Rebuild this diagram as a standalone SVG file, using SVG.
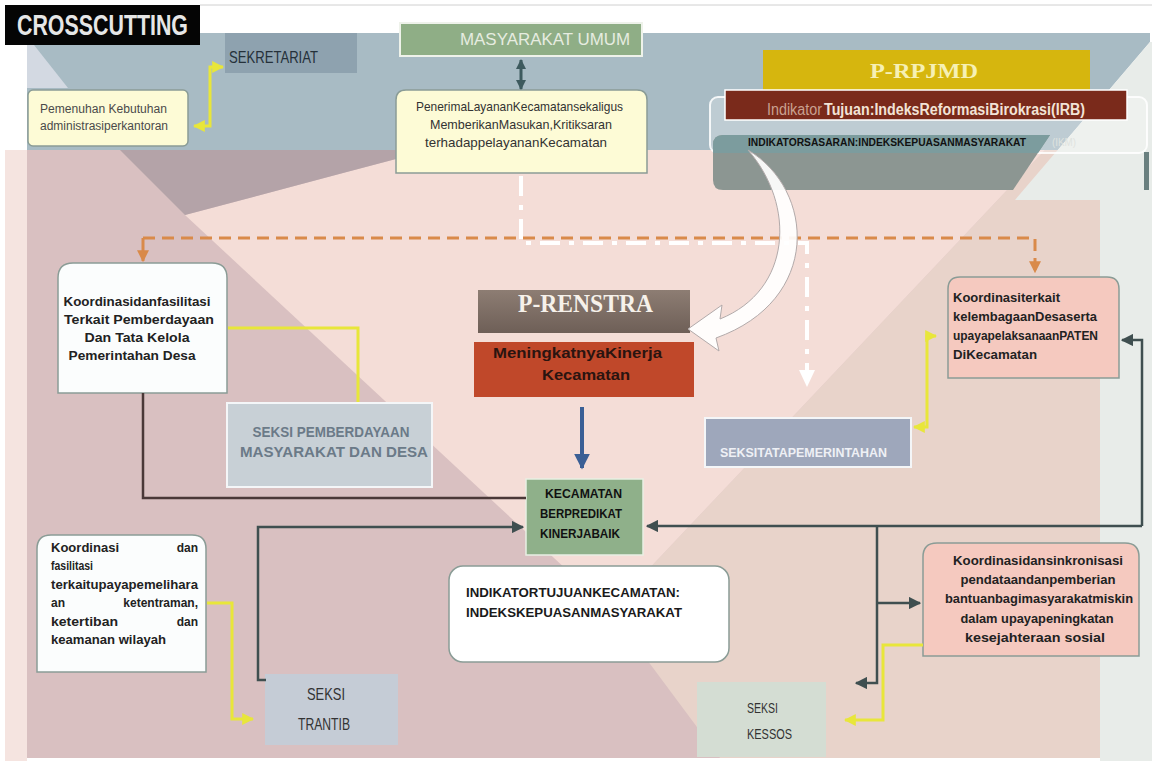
<svg xmlns="http://www.w3.org/2000/svg" width="1152" height="761" viewBox="0 0 1152 761">
<style>
text{font-family:"Liberation Sans",Arial,sans-serif;}
.serif{font-family:"Liberation Serif","Times New Roman",serif;font-weight:bold;}
.b{font-weight:bold;}
.dark{fill:#222;}
.yl{fill:none;stroke:#e8e63a;stroke-width:3;}
.dk{fill:none;stroke:#3f4f50;stroke-width:2.5;}
.or{fill:none;stroke:#d98a4a;stroke-width:3;}
.wh{fill:none;stroke:#ffffff;stroke-width:4;}
.card{stroke:#8a9c96;stroke-width:1.5;}
</style>
<defs>
<marker id="aDk" viewBox="0 0 10 10" refX="9" refY="5" markerWidth="5" markerHeight="5" orient="auto-start-reverse"><path d="M0,0 L10,5 L0,10 Z" fill="#3f4f50"/></marker>
<marker id="aYl" viewBox="0 0 10 10" refX="9" refY="5" markerWidth="4" markerHeight="4" orient="auto-start-reverse"><path d="M0,0 L10,5 L0,10 Z" fill="#e8e63a"/></marker>
<marker id="aOr" viewBox="0 0 10 10" refX="9" refY="5" markerWidth="4" markerHeight="4" orient="auto"><path d="M0,0 L10,5 L0,10 Z" fill="#d98a4a"/></marker>
<marker id="aBl" viewBox="0 0 10 10" refX="9" refY="5" markerWidth="4" markerHeight="4" orient="auto"><path d="M0,0 L10,5 L0,10 Z" fill="#3a5f95"/></marker>
<marker id="aTl" viewBox="0 0 10 10" refX="9" refY="5" markerWidth="3.5" markerHeight="3.5" orient="auto-start-reverse"><path d="M0,0 L10,5 L0,10 Z" fill="#3d5a5e"/></marker>
<linearGradient id="gRen" x1="0" y1="0" x2="0" y2="1"><stop offset="0" stop-color="#8d7d73"/><stop offset="1" stop-color="#6e5f57"/></linearGradient>
</defs>

<g id="background">
<rect x="0" y="0" width="1152" height="761" fill="#ffffff"/>
<line x1="200" y1="5" x2="1152" y2="5" stroke="#d0d0d0" stroke-width="1"/>
<rect x="5" y="150" width="22" height="611" fill="#f5e4e0"/>
<rect x="27" y="150" width="1073" height="608" fill="#d9c0c1"/>
<polygon points="1045,150 1100,150 1100,758 720,758 610,610" fill="#e8d3ca"/>
<polygon points="185,215 343,173 430,150 1045,150 610,610" fill="#f4ddd7"/>
<polygon points="120,150 430,150 343,173 185,215" fill="#b4a3a8"/>
<polygon points="27,33 1150,33 1150,42 1058,150 27,150" fill="#a8bbc4"/>
<polygon points="27,45 34,45 68,88 27,88" fill="#d3d9e2"/>
<polygon points="1150,42 1152,42 1152,761 1100,761 1100,200 1015,200" fill="#e8ece9"/>
<rect x="1144" y="152" width="5" height="38" fill="#6a8080"/>
</g>

<g id="crosscutting">
<rect x="5" y="5" width="195" height="40" fill="#050505"/>
<text x="17" y="35" font-size="29" class="b" fill="#e6e6e6" textLength="171" lengthAdjust="spacingAndGlyphs">CROSSCUTTING</text>
</g>

<g id="sekretariat">
<rect x="225" y="33" width="132" height="40" fill="#8ea2af"/>
<text x="229" y="63" font-size="17" fill="#25313a" textLength="89" lengthAdjust="spacingAndGlyphs">SEKRETARIAT</text>
</g>

<g id="pemenuhan">
<rect x="28" y="90" width="160" height="56" rx="5" fill="#fdfbd6" class="card"/>
<text x="40" y="113" font-size="12" fill="#4a4a4a" textLength="127" lengthAdjust="spacingAndGlyphs">Pemenuhan Kebutuhan</text>
<text x="40" y="130" font-size="12" fill="#4a4a4a" textLength="128" lengthAdjust="spacingAndGlyphs">administrasiperkantoran</text>
</g>

<g id="masyarakat-umum">
<rect x="400" y="23" width="242" height="33" fill="#8fae86" stroke="#eef2ea" stroke-width="2"/>
<text x="460" y="45" font-size="16" fill="#e6ece0" textLength="170" lengthAdjust="spacingAndGlyphs">MASYARAKAT UMUM</text>
</g>

<g id="penerima">
<path d="M396,173 V100 Q396,90 406,90 H637 Q647,90 647,100 V173 Z" fill="#fdfbd6" class="card"/>
<text x="416" y="111" font-size="13" fill="#333" textLength="207" lengthAdjust="spacingAndGlyphs">PenerimaLayananKecamatansekaligus</text>
<text x="430" y="129" font-size="13" fill="#333" textLength="182" lengthAdjust="spacingAndGlyphs">MemberikanMasukan,Kritiksaran</text>
<text x="425" y="147" font-size="13" fill="#333" textLength="182" lengthAdjust="spacingAndGlyphs">terhadappelayananKecamatan</text>
</g>

<g id="p-rpjmd">
<rect x="763" y="50" width="327" height="42" fill="#d6b60e"/>
<text x="870" y="78" font-size="22" class="serif" fill="#f6f0b4" textLength="108" lengthAdjust="spacingAndGlyphs">P-RPJMD</text>
</g>

<g id="indikator-frame">
<rect x="710" y="97" width="437" height="56" rx="8" fill="#ffffff" fill-opacity="0.25" stroke="#ffffff" stroke-opacity="0.85" stroke-width="2"/>
</g>

<g id="indikator-tujuan">
<rect x="725" y="90" width="402" height="30" fill="#7a2a1b" stroke="#ffffff" stroke-width="1.5"/>
<text x="767" y="115" font-size="16" fill="#c9a090" textLength="55" lengthAdjust="spacingAndGlyphs">Indikator</text>
<text x="824" y="115" font-size="16" class="b" fill="#f2e3d6" textLength="261" lengthAdjust="spacingAndGlyphs">Tujuan:IndeksReformasiBirokrasi(IRB)</text>
</g>

<g id="indikator-sasaran">
<path d="M723,135 H1050 L1013,190 H723 Q713,190 713,180 V145 Q713,135 723,135 Z" fill="#8c9692"/>
<path d="M723,135 H1050 L1038,153 H713 V145 Q713,135 723,135 Z" fill="#7c9c9e"/>
<text x="748" y="146" font-size="11" class="b" fill="#111" textLength="278" lengthAdjust="spacingAndGlyphs">INDIKATORSASARAN:INDEKSKEPUASANMASYARAKAT</text>
<text x="1052" y="146" font-size="10" fill="#dfe3df" textLength="24" lengthAdjust="spacingAndGlyphs">(IKM)</text>
</g>

<g id="koordinasi-desa">
<path d="M58,393 V278 Q58,263 73,263 H212 Q227,263 227,278 V393 Z" fill="#fbfdfd" class="card"/>
<text x="137" y="306" font-size="13" class="b dark" text-anchor="middle" textLength="147" lengthAdjust="spacingAndGlyphs">Koordinasidanfasilitasi</text>
<text x="139" y="324" font-size="13" class="b dark" text-anchor="middle" textLength="150" lengthAdjust="spacingAndGlyphs">Terkait Pemberdayaan</text>
<text x="137" y="342" font-size="13" class="b dark" text-anchor="middle" textLength="105" lengthAdjust="spacingAndGlyphs">Dan Tata Kelola</text>
<text x="132" y="360" font-size="13" class="b dark" text-anchor="middle" textLength="127" lengthAdjust="spacingAndGlyphs">Pemerintahan Desa</text>
</g>

<g id="seksi-pemberdayaan">
<rect x="227" y="403" width="205" height="84" fill="#c8d0d6" stroke="#f4f6f8" stroke-width="2"/>
<text x="331" y="437" font-size="15" class="b" fill="#6b7a88" text-anchor="middle" textLength="157" lengthAdjust="spacingAndGlyphs">SEKSI PEMBERDAYAAN</text>
<text x="334" y="457" font-size="15" class="b" fill="#6b7a88" text-anchor="middle" textLength="188" lengthAdjust="spacingAndGlyphs">MASYARAKAT DAN DESA</text>
</g>

<g id="p-renstra">
<rect x="478" y="290" width="212" height="43" fill="url(#gRen)"/>
<text x="518" y="312" font-size="25" class="serif" fill="#f6f1ea" textLength="135" lengthAdjust="spacingAndGlyphs">P-RENSTRA</text>
</g>

<g id="meningkatnya">
<rect x="474" y="342" width="220" height="55" fill="#c0482a"/>
<text x="493" y="358" font-size="15" class="b" fill="#2a1410" textLength="169" lengthAdjust="spacingAndGlyphs">MeningkatnyaKinerja</text>
<text x="542" y="380" font-size="15" class="b" fill="#2a1410" textLength="88" lengthAdjust="spacingAndGlyphs">Kecamatan</text>
</g>

<g id="seksi-tata-pemerintahan">
<rect x="705" y="418" width="206" height="49" fill="#9ea7bb" stroke="#f4f6f8" stroke-width="2"/>
<text x="720" y="457" font-size="13" class="b" fill="#eef0f5" textLength="167" lengthAdjust="spacingAndGlyphs">SEKSITATAPEMERINTAHAN</text>
</g>

<g id="koordinasi-paten">
<path d="M948,378 V289 Q948,277 960,277 H1107 Q1119,277 1119,289 V378 Z" fill="#f5c9bf" class="card"/>
<text x="953" y="302" font-size="12" class="b dark" textLength="107" lengthAdjust="spacingAndGlyphs">Koordinasiterkait</text>
<text x="953" y="321" font-size="12" class="b dark" textLength="144" lengthAdjust="spacingAndGlyphs">kelembagaanDesaserta</text>
<text x="953" y="340" font-size="12" class="b dark" textLength="145" lengthAdjust="spacingAndGlyphs">upayapelaksanaanPATEN</text>
<text x="953" y="359" font-size="12" class="b dark" textLength="84" lengthAdjust="spacingAndGlyphs">DiKecamatan</text>
</g>

<g id="kecamatan">
<rect x="526" y="479" width="117" height="76" fill="#8fb08a" stroke="#e8efe4" stroke-width="1.5"/>
<text x="545" y="498" font-size="13" class="b" fill="#111" textLength="77" lengthAdjust="spacingAndGlyphs">KECAMATAN</text>
<text x="540" y="518" font-size="13" class="b" fill="#111" textLength="82" lengthAdjust="spacingAndGlyphs">BERPREDIKAT</text>
<text x="540" y="538" font-size="13" class="b" fill="#111" textLength="80" lengthAdjust="spacingAndGlyphs">KINERJABAIK</text>
</g>

<g id="indikator-kecamatan">
<rect x="449" y="566" width="280" height="96" rx="14" fill="#ffffff" class="card"/>
<text x="466" y="597" font-size="13" class="b" fill="#1a1a1a" textLength="214" lengthAdjust="spacingAndGlyphs">INDIKATORTUJUANKECAMATAN:</text>
<text x="466" y="617" font-size="13" class="b" fill="#1a1a1a" textLength="216" lengthAdjust="spacingAndGlyphs">INDEKSKEPUASANMASYARAKAT</text>
</g>

<g id="koordinasi-trantib">
<path d="M37,672 V549 Q37,535 51,535 H192 Q206,535 206,549 V672 Z" fill="#fbfdfd" class="card"/>
<text x="51" y="552" font-size="12" class="b dark" textLength="68" lengthAdjust="spacingAndGlyphs">Koordinasi</text>
<text x="198" y="552" font-size="12" class="b dark" text-anchor="end">dan</text>
<text x="51" y="570" font-size="12" class="b dark" textLength="42" lengthAdjust="spacingAndGlyphs">fasilitasi</text>
<text x="51" y="589" font-size="12" class="b dark" textLength="147" lengthAdjust="spacingAndGlyphs">terkaitupayapemelihara</text>
<text x="51" y="607" font-size="12" class="b dark">an</text>
<text x="198" y="607" font-size="12" class="b dark" text-anchor="end">ketentraman,</text>
<text x="51" y="626" font-size="12" class="b dark" textLength="67" lengthAdjust="spacingAndGlyphs">ketertiban</text>
<text x="198" y="626" font-size="12" class="b dark" text-anchor="end">dan</text>
<text x="51" y="644" font-size="12" class="b dark" textLength="115" lengthAdjust="spacingAndGlyphs">keamanan wilayah</text>
</g>

<g id="seksi-trantib">
<rect x="265" y="674" width="133" height="71" fill="#c5ccd6"/>
<text x="326" y="700" font-size="17" fill="#333" text-anchor="middle" textLength="38" lengthAdjust="spacingAndGlyphs">SEKSI</text>
<text x="324" y="730" font-size="17" fill="#333" text-anchor="middle" textLength="52" lengthAdjust="spacingAndGlyphs">TRANTIB</text>
</g>

<g id="koordinasi-kessos">
<path d="M923,656 V557 Q923,543 937,543 H1125 Q1139,543 1139,557 V656 Z" fill="#f5c9bf" class="card"/>
<text x="1038" y="565" font-size="12" class="b dark" text-anchor="middle" textLength="170" lengthAdjust="spacingAndGlyphs">Koordinasidansinkronisasi</text>
<text x="1038" y="584" font-size="12" class="b dark" text-anchor="middle" textLength="155" lengthAdjust="spacingAndGlyphs">pendataandanpemberian</text>
<text x="1039" y="603" font-size="12" class="b dark" text-anchor="middle" textLength="188" lengthAdjust="spacingAndGlyphs">bantuanbagimasyarakatmiskin</text>
<text x="1037" y="623" font-size="12" class="b dark" text-anchor="middle" textLength="153" lengthAdjust="spacingAndGlyphs">dalam upayapeningkatan</text>
<text x="1035" y="642" font-size="12" class="b dark" text-anchor="middle" textLength="140" lengthAdjust="spacingAndGlyphs">kesejahteraan sosial</text>
</g>

<g id="seksi-kessos">
<rect x="697" y="682" width="129" height="75" fill="#d4ddd3"/>
<text x="747" y="713" font-size="14" fill="#333" textLength="31" lengthAdjust="spacingAndGlyphs">SEKSI</text>
<text x="747" y="739" font-size="14" fill="#333" textLength="45" lengthAdjust="spacingAndGlyphs">KESSOS</text>
</g>

<g id="connectors">
<path class="yl" d="M223,67 H210 V126 H194" marker-start="url(#aYl)" marker-end="url(#aYl)"/>
<line x1="521" y1="60" x2="521" y2="89" stroke="#3d5a5e" stroke-width="3" marker-start="url(#aTl)" marker-end="url(#aTl)"/>
<path class="wh" d="M521,176 V243 H807 V372" stroke-dasharray="20 9 5 9"/>
<polygon points="799,370 815,370 807,387" fill="#ffffff"/>
<path class="or" d="M143,238 H1035 V272" stroke-dasharray="12 7" marker-end="url(#aOr)"/>
<path class="or" d="M143,238 V261" marker-end="url(#aOr)"/>
<path class="yl" d="M228,328 H358 V402"/>
<path d="M143,393 V498 H526" fill="none" stroke="#4a3838" stroke-width="2.5"/>
<path d="M582,407 V468" fill="none" stroke="#3a5f95" stroke-width="4" marker-end="url(#aBl)"/>
<path class="yl" d="M936,336 H927 V427 H914" marker-start="url(#aYl)" marker-end="url(#aYl)"/>
<path class="dk" d="M266,680 H258 V527 H523" marker-end="url(#aDk)"/>
<path class="dk" d="M1142,526 H647" marker-end="url(#aDk)"/>
<path class="dk" d="M1142,526 V340 H1122" marker-end="url(#aDk)"/>
<path class="dk" d="M877,526 V683 H856" marker-end="url(#aDk)"/>
<path class="dk" d="M877,603 H920" marker-end="url(#aDk)"/>
<path class="yl" d="M207,603 H232 V719 H253" marker-end="url(#aYl)"/>
<path class="yl" d="M923,645 H883 V720 H845" marker-end="url(#aYl)"/>
<path d="M748,150 C815,190 822,300 716,338 L719,351 L688,329 L722,305 L720,319 C792,290 796,205 748,150 Z" fill="#ffffff" fill-opacity="0.92" stroke="#b2aaaa" stroke-width="1"/>
</g>
</svg>
